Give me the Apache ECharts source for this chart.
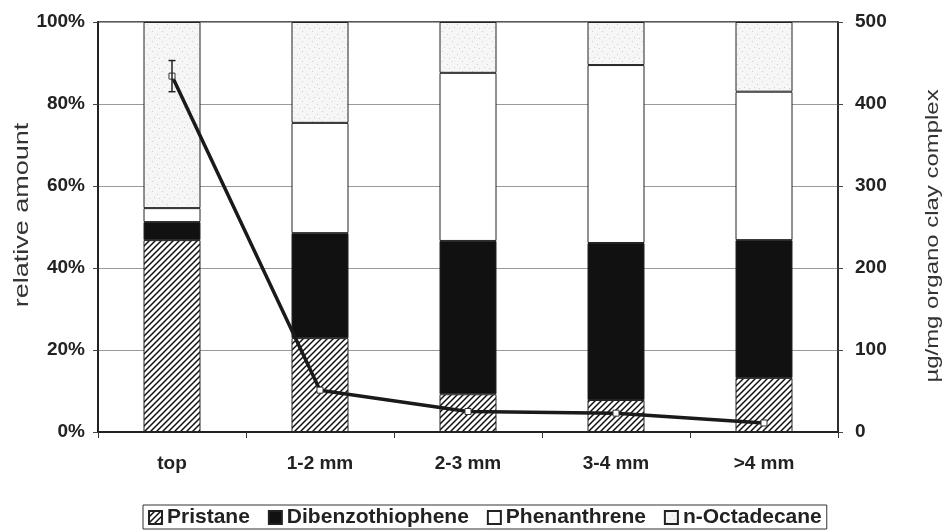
<!DOCTYPE html>
<html>
<head>
<meta charset="utf-8">
<script src="https://cdn.jsdelivr.net/npm/echarts@6/dist/echarts.min.js"></script>
<style>
  html, body { margin: 0; padding: 0; background: #fff; }
  #main { width: 943px; height: 532px; }
</style>
</head>
<body>
<div id="main"></div>
<script>
// categories and stacked shares (%)
var categories = ['top', '1-2 mm', '2-3 mm', '3-4 mm', '>4 mm'];
var pristane = [46.8, 22.9, 9.2, 7.8, 13.2];
var dibenzothiophene = [4.4, 25.6, 37.4, 38.3, 33.6];
var phenanthrene = [3.4, 26.9, 41.0, 43.4, 36.2];
var octadecane = [45.4, 24.6, 12.4, 10.5, 17.0];
// total amount, right axis (µg/mg)
var total = [434, 51, 25, 23, 11];
var totalErr = [19, 0, 0, 0, 0];
var leftTicks = [0, 20, 40, 60, 80, 100];
var rightTicks = [0, 100, 200, 300, 400, 500];

// hatch "/" pattern for Pristane
function hatchPattern() {
  var s = 6;
  var c = document.createElement('canvas');
  c.width = s; c.height = s;
  var g = c.getContext('2d');
  g.fillStyle = '#fff';
  g.fillRect(0, 0, s, s);
  g.strokeStyle = '#111';
  g.lineWidth = 1.5;
  g.beginPath();
  g.moveTo(0, s); g.lineTo(s, 0);
  g.moveTo(-1, 1); g.lineTo(1, -1);
  g.moveTo(s - 1, s + 1); g.lineTo(s + 1, s - 1);
  g.stroke();
  return c;
}
// light stipple for n-Octadecane (fixed dot positions)
function stipplePattern() {
  var s = 10;
  var c = document.createElement('canvas');
  c.width = s; c.height = s;
  var g = c.getContext('2d');
  g.fillStyle = '#f6f6f6';
  g.fillRect(0, 0, s, s);
  g.fillStyle = '#cfcfcf';
  g.fillRect(2, 1, 1, 1);
  g.fillRect(7, 4, 1, 1);
  g.fillRect(4, 7, 1, 1);
  g.fillRect(9, 8, 1, 1);
  return c;
}

var chart = echarts.init(document.getElementById('main'));
var border = { borderColor: '#222', borderWidth: 1 };
var font = 'Liberation Sans, Arial, sans-serif';

function barSeries(name, data, color) {
  return {
    name: name,
    type: 'bar',
    stack: 'share',
    barWidth: 57,
    data: data,
    itemStyle: Object.assign({ color: color }, border)
  };
}

function axisName(text, x, y, size, stretch) {
  return {
    type: 'text',
    x: x, y: y,
    rotation: Math.PI / 2,
    scaleX: stretch,
    style: {
      text: text,
      fontSize: size,
      fontFamily: font,
      fill: '#333',
      align: 'center', verticalAlign: 'middle',
      textAlign: 'center', textVerticalAlign: 'middle'
    }
  };
}

var option = {
  backgroundColor: '#fff',
  animation: false,
  textStyle: { fontFamily: font },
  grid: {
    left: 98, right: 105, top: 22, bottom: 100,
    show: true, borderColor: '#222', borderWidth: 1.5, backgroundColor: 'transparent'
  },
  graphic: [
    axisName('relative amount', 22, 215, 20, 1.35),
    axisName('µg/mg organo clay complex', 933, 236, 19, 1.26)
  ],
  legend: {
    bottom: 3,
    left: 143,
    data: ['Pristane', 'Dibenzothiophene', 'Phenanthrene', 'n-Octadecane'],
    icon: 'rect',
    itemWidth: 13,
    itemHeight: 13,
    itemGap: 18,
    borderColor: '#333',
    borderWidth: 1,
    padding: [2, 5, 1, 5],
    borderRadius: 0,
    textStyle: { fontSize: 21, fontWeight: 'bold', color: '#222' }
  },
  xAxis: {
    type: 'category',
    data: categories,
    axisLine: { lineStyle: { color: '#222', width: 2 } },
    axisTick: { show: true, length: 6, lineStyle: { color: '#333' } },
    axisLabel: { fontSize: 19, fontWeight: 'bold', color: '#222', margin: 22 }
  },
  yAxis: [
    {
      type: 'value',
      min: leftTicks[0], max: leftTicks[leftTicks.length - 1], interval: 20,
      axisLine: { show: true, lineStyle: { color: '#222', width: 2 } },
      axisTick: { show: true, length: 5, lineStyle: { color: '#444' } },
      axisLabel: { formatter: '{value}%', fontSize: 19, fontWeight: 'bold', color: '#222', margin: 13 },
      splitLine: { show: true, lineStyle: { color: '#9a9a9a', width: 1 } }
    },
    {
      type: 'value',
      min: rightTicks[0], max: rightTicks[rightTicks.length - 1], interval: 100,
      axisLine: { show: true, lineStyle: { color: '#222', width: 1.5 } },
      axisTick: { show: true, length: 5, lineStyle: { color: '#444' } },
      axisLabel: { fontSize: 19, fontWeight: 'bold', color: '#222', margin: 17 },
      splitLine: { show: false }
    }
  ],
  series: [
    barSeries('Pristane', pristane, { image: hatchPattern(), repeat: 'repeat' }),
    barSeries('Dibenzothiophene', dibenzothiophene, '#111'),
    barSeries('Phenanthrene', phenanthrene, '#fff'),
    barSeries('n-Octadecane', octadecane, { image: stipplePattern(), repeat: 'repeat' }),
    {
      name: 'total',
      type: 'line',
      yAxisIndex: 1,
      data: total,
      symbol: 'rect',
      symbolSize: 6,
      z: 5,
      lineStyle: { color: '#1a1a1a', width: 3.5 },
      itemStyle: { color: '#fff', borderColor: '#333', borderWidth: 1 }
    },
    {
      name: 'error',
      type: 'custom',
      yAxisIndex: 1,
      z: 6,
      data: total.map(function (v, i) { return [i, v - totalErr[i], v + totalErr[i]]; }),
      renderItem: function (params, api) {
        if (api.value(2) - api.value(1) <= 0) return null;
        var lo = api.coord([api.value(0), api.value(1)]);
        var hi = api.coord([api.value(0), api.value(2)]);
        var w = 3.5;
        var st = { stroke: '#222', lineWidth: 1.5 };
        return {
          type: 'group',
          children: [
            { type: 'line', shape: { x1: hi[0], y1: hi[1], x2: lo[0], y2: lo[1] }, style: st },
            { type: 'line', shape: { x1: hi[0] - w, y1: hi[1], x2: hi[0] + w, y2: hi[1] }, style: st },
            { type: 'line', shape: { x1: lo[0] - w, y1: lo[1], x2: lo[0] + w, y2: lo[1] }, style: st }
          ]
        };
      }
    }
  ]
};
chart.setOption(option);
</script>
</body>
</html>
